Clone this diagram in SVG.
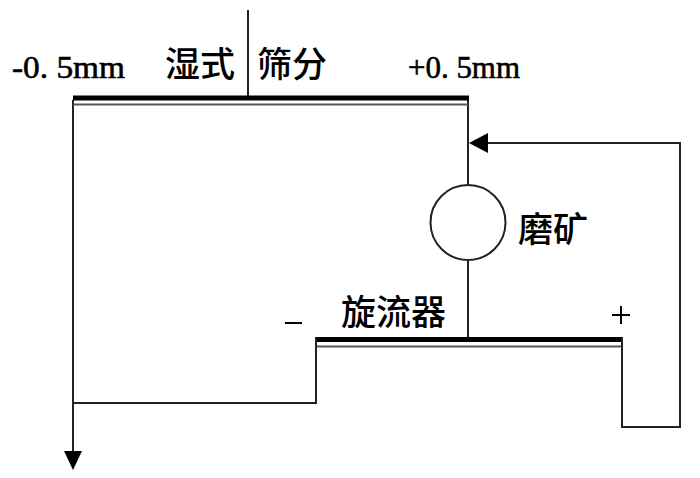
<svg xmlns="http://www.w3.org/2000/svg" width="700" height="478" viewBox="0 0 700 478">
<defs>
<style>
.ln{fill:none;stroke:#222;stroke-width:2}
.bar{fill:#000}
.thin{fill:none;stroke:#555;stroke-width:1.8}
.cn{font-family:"Noto Sans CJK SC","Noto Sans CJK JP",sans-serif;font-size:35px;font-weight:500;fill:#000}
.lat{font-family:"Liberation Serif",serif;font-size:31px;fill:#000;stroke:#000;stroke-width:0.6}
</style>
</defs>
<rect width="700" height="478" fill="#fff"/>
<g id="connectors">
<path class="ln" d="M73,100 V452"/>
<path d="M64,451 L82,451 L73,470 Z" fill="#000"/>
<path class="ln" d="M73,403 H316 V342"/>
<path class="ln" d="M622,342 V427 H680 V143 H488"/>
<path d="M488,133 L488,153 L469,143 Z" fill="#000"/>
<path class="ln" d="M468,100 V185"/>
<path class="ln" d="M468,260 V338"/>
<path class="ln" d="M248,10 V98"/>
</g>
<g id="screen">
<rect class="bar" x="73" y="95.5" width="396" height="5"/>
<path class="thin" d="M73,104.5 H468"/>
<text class="cn" x="165" y="77">湿式</text>
<text class="cn" x="257" y="77">筛分</text>
<text class="lat" x="12" y="78" textLength="113" lengthAdjust="spacingAndGlyphs">-0. 5mm</text>
<text class="lat" x="408" y="78" textLength="112" lengthAdjust="spacingAndGlyphs">+0. 5mm</text>
</g>
<g id="mill">
<circle cx="468" cy="222.5" r="37.5" fill="#fff" stroke="#222" stroke-width="2"/>
<text class="cn" x="518" y="242">磨矿</text>
</g>
<g id="cyclone">
<rect class="bar" x="315" y="337" width="308" height="5"/>
<path class="thin" d="M316,346.5 H622"/>
<path class="ln" d="M316,337 V347 M622,337 V347"/>
<text class="cn" x="341" y="325">旋流器</text>
<path d="M285,323 H302 M612,315 H630 M621,306 V324" fill="none" stroke="#000" stroke-width="2"/>
</g>
</svg>
